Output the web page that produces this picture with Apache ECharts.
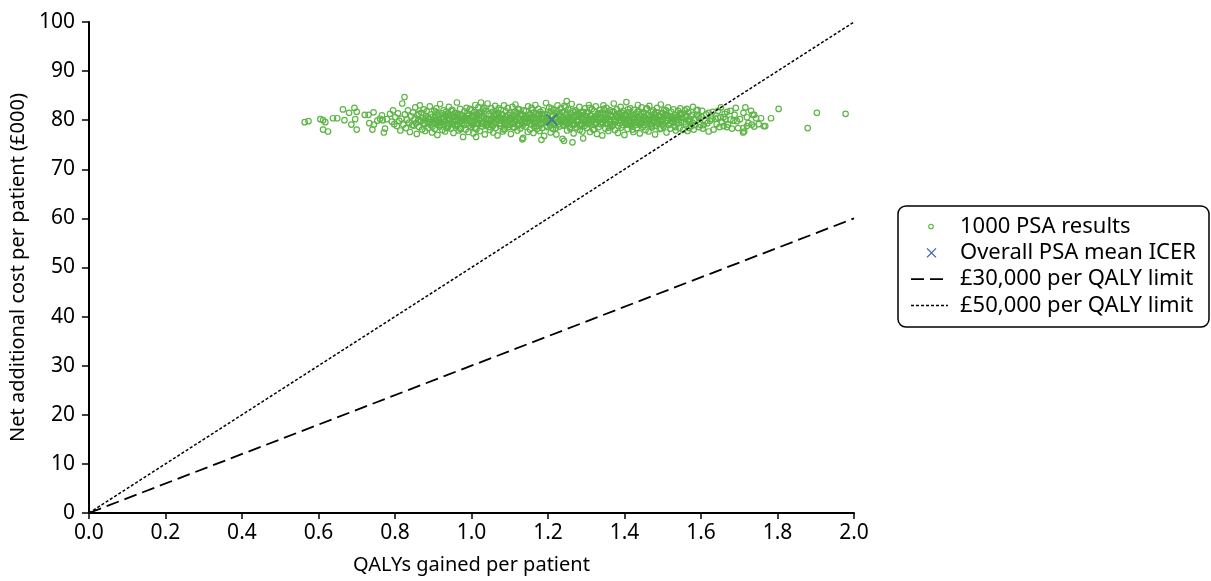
<!DOCTYPE html>
<html>
<head>
<meta charset="utf-8">
<script src="https://cdn.jsdelivr.net/npm/echarts@6/dist/echarts.min.js"></script>
<style>
html,body{margin:0;padding:0;background:#fff;}
#chart{width:1211px;height:581px;}
</style>
</head>
<body>
<div id="chart"></div>
<script>
// ---- Data ----
var xTickLabels = ['0.0','0.2','0.4','0.6','0.8','1.0','1.2','1.4','1.6','1.8','2.0'];
var yTickLabels = ['0','10','20','30','40','50','60','70','80','90','100'];

var seriesNames = ['1000 PSA results','Overall PSA mean ICER','£30,000 per QALY limit','£50,000 per QALY limit'];

// threshold lines: QALYs gained vs cost (£000)
var thresholdQalys = [0, 2.0];
var limit30k = [0, 60];
var limit50k = [0, 100];

// overall mean ICER point
var meanIcer = [1.21, 80.1];

// PSA results [QALYs gained, net additional cost (£000)]
var psaResults = [
[0.564,79.6],[0.574,79.8],[0.605,80.2],[0.612,80.0],[0.618,79.6],[0.612,78.1],[0.625,77.7],[0.638,80.4],[0.649,80.4],[0.664,82.2],
[0.668,80.0],[0.680,81.5],[0.686,79.1],[0.694,82.5],[0.700,81.7],[0.696,80.2],[0.700,78.1],[0.721,81.1],[0.731,81.1],[0.744,81.6],
[0.733,79.4],[0.745,79.1],[0.741,78.1],[0.754,79.9],[0.761,80.3],[0.766,81.0],[0.768,80.0],[0.779,80.2],[0.774,78.3],[0.771,77.5],
[0.787,81.3],[0.792,79.7],[0.795,82.0],
[0.798,79.2],[0.801,80.6],[0.805,78.8],[0.808,81.4],[0.811,79.9],[0.814,77.9],[0.817,80.3],[0.819,83.4],[0.822,79.1],[0.825,84.7],
[0.826,81.2],[0.829,78.4],[0.832,80.1],[0.834,82.0],[0.837,79.5],[0.839,77.6],[0.842,80.8],[0.845,79.0],[0.847,81.6],[0.849,78.9],
[0.851,80.2],[0.853,82.6],[0.855,79.4],[0.857,77.2],[0.859,81.0],[0.861,80.0],[0.863,78.6],[0.865,83.0],[0.867,79.7],[0.869,81.5],
[0.871,78.1],[0.873,80.5],[0.875,82.2],[0.877,79.2],[0.879,77.8],[0.881,80.9],[0.883,81.8],[0.885,79.6],[0.887,78.4],[0.889,80.3],
[0.891,82.8],[0.893,79.0],[0.895,81.2],[0.897,77.5],[0.899,80.7],
[0.901,79.3],[0.903,81.9],[0.904,78.2],[0.906,80.4],[0.908,82.4],[0.910,79.8],[0.911,77.0],[0.913,81.1],[0.915,80.1],[0.917,78.7],
[0.918,83.3],[0.920,79.5],[0.922,81.4],[0.924,78.0],[0.925,80.6],[0.927,82.0],[0.929,79.1],[0.931,77.7],[0.932,80.9],[0.934,81.7],
[0.936,79.4],[0.938,78.5],[0.939,80.2],[0.941,82.7],[0.943,79.9],[0.945,81.0],[0.946,78.3],[0.948,80.5],
[0.950,82.1],[0.952,79.6],[0.953,77.4],[0.955,80.8],[0.957,81.5],[0.958,78.8],[0.960,80.0],[0.962,83.6],[0.963,79.2],[0.965,81.3],
[0.967,77.9],[0.968,80.4],[0.970,82.3],[0.972,79.7],[0.973,78.4],[0.975,81.0],[0.977,80.2],[0.978,76.6],[0.980,79.0],[0.982,81.8],
[0.983,80.6],[0.985,78.1],[0.987,82.5],[0.988,79.4],[0.990,80.9],[0.992,77.6],[0.993,81.2],[0.995,79.9],[0.997,80.4],[0.998,78.6],
[1.000,82.0],[1.002,79.1],[1.003,80.7],[1.005,77.3],[1.007,81.6],[1.008,79.8],[1.010,83.1],[1.012,80.3],[1.013,78.2],[1.015,81.1],
[1.017,79.5],[1.018,82.6],[1.020,80.0],[1.022,77.8],[1.023,81.4],[1.025,79.3],[1.027,80.8],[1.028,78.7],[1.030,82.2],[1.032,79.7],
[1.033,80.5],[1.035,77.1],[1.037,81.9],[1.038,80.1],[1.040,78.9],[1.042,83.4],[1.043,79.4],[1.045,81.3],[1.047,80.2],[1.048,78.0],
[1.050,80.9],[1.052,82.4],[1.053,79.0],[1.055,81.7],[1.057,77.5],[1.058,80.4],[1.060,79.6],[1.062,82.9],[1.063,78.4],[1.065,81.0],
[1.067,80.0],[1.068,76.9],[1.070,81.5],[1.072,79.2],[1.073,80.7],[1.075,78.8],[1.077,82.1],[1.078,79.9],[1.080,81.2],[1.082,77.7],
[1.083,80.3],[1.085,83.0],[1.087,79.5],[1.088,78.2],[1.090,81.8],[1.092,80.6],[1.093,79.1],[1.095,82.5],[1.097,78.6],[1.098,80.1],
[1.100,81.4],[1.102,79.7],[1.103,77.2],[1.105,80.8],[1.107,82.7],[1.108,79.3],[1.110,81.1],[1.112,78.5],[1.113,80.2],[1.115,83.2],
[1.117,79.8],[1.118,81.6],[1.120,77.9],[1.122,80.5],[1.123,79.0],[1.125,82.2],[1.127,80.0],[1.128,78.3],[1.130,81.3],[1.132,79.6],
[1.133,80.9],[1.135,76.4],[1.137,82.0],[1.138,79.4],[1.140,80.6],[1.142,78.7],[1.143,81.9],[1.145,80.3],[1.147,77.6],[1.148,82.8],
[1.150,79.9],[1.152,81.2],[1.153,78.1],[1.155,80.7],[1.157,82.5],[1.158,79.2],[1.160,80.1],[1.162,77.4],[1.163,81.5],[1.165,79.7],
[1.167,83.1],[1.168,80.4],[1.170,78.8],[1.172,81.0],[1.173,79.5],[1.175,82.3],[1.177,80.0],[1.178,77.8],[1.180,81.7],[1.182,79.1],
[1.183,80.6],[1.185,78.4],[1.187,82.0],[1.188,80.2],[1.190,76.8],[1.192,81.3],[1.193,79.8],[1.195,83.5],[1.197,80.5],[1.198,78.6],
[1.200,81.1],[1.202,79.4],[1.203,82.6],[1.205,80.0],[1.207,77.5],[1.208,81.8],[1.210,79.6],[1.212,80.8],[1.213,78.2],[1.215,82.1],
[1.217,80.3],[1.218,79.0],[1.220,81.4],[1.222,77.1],[1.223,80.6],[1.225,83.0],[1.227,79.2],[1.228,81.0],[1.230,78.7],[1.232,80.1],
[1.233,82.4],[1.235,79.7],[1.237,81.6],[1.238,76.2],[1.240,80.4],[1.242,78.9],[1.243,82.9],[1.245,80.0],[1.247,79.3],[1.248,81.2],
[1.250,77.9],[1.252,80.7],[1.253,82.2],[1.255,79.5],[1.257,81.5],[1.258,78.3],[1.260,80.2],[1.262,83.3],[1.263,79.9],[1.265,81.9],
[1.267,77.3],[1.268,80.5],[1.270,79.1],[1.272,82.0],[1.273,80.9],[1.275,78.5],[1.277,81.3],[1.278,79.6],[1.280,80.0],[1.282,82.7],
[1.283,78.0],[1.285,81.1],[1.287,79.3],[1.288,80.6],[1.290,77.7],[1.292,81.7],[1.293,80.3],[1.295,78.8],[1.297,82.4],[1.298,79.8],
[1.300,80.8],[1.302,78.4],[1.303,81.4],[1.305,79.4],[1.307,83.1],[1.308,80.1],[1.310,77.6],[1.312,81.0],[1.313,79.7],[1.315,82.3],
[1.317,80.4],[1.318,78.1],[1.320,81.8],[1.322,79.0],[1.323,80.7],[1.325,82.8],[1.327,79.5],[1.328,77.2],[1.330,81.2],[1.332,80.0],
[1.333,78.6],[1.335,82.1],[1.337,80.5],[1.338,79.2],[1.340,81.5],[1.342,76.9],[1.343,80.2],[1.345,83.0],[1.347,79.9],[1.348,81.1],
[1.350,78.3],[1.352,80.6],[1.353,82.5],[1.355,79.3],[1.357,81.3],[1.358,77.8],[1.360,80.0],[1.362,82.0],[1.363,79.6],[1.365,80.9],
[1.367,78.7],[1.368,81.7],[1.370,79.1],[1.372,83.4],[1.373,80.3],[1.375,78.0],[1.377,81.0],[1.378,79.8],[1.380,82.2],[1.382,80.5],
[1.383,77.4],[1.385,81.4],[1.387,79.4],[1.388,80.1],[1.390,82.7],[1.392,78.5],[1.393,80.8],[1.395,79.0],[1.397,81.9],[1.398,80.2],
[1.400,77.0],[1.402,81.2],[1.403,79.5],[1.405,83.7],[1.407,80.4],[1.408,78.2],[1.410,81.6],[1.412,79.7],[1.413,80.0],[1.415,82.4],
[1.417,78.8],[1.418,81.0],[1.420,79.2],[1.422,80.7],[1.423,77.6],[1.425,82.1],[1.427,80.2],[1.428,79.0],[1.430,81.4],[1.432,78.4],
[1.433,80.5],[1.435,83.1],[1.437,79.6],[1.438,81.8],[1.440,77.3],[1.442,80.9],[1.443,79.3],[1.445,82.6],[1.447,80.1],[1.448,78.6],
[1.450,81.5],[1.452,79.9],[1.453,80.6],[1.455,78.0],[1.457,82.3],[1.458,79.4],[1.460,81.1],[1.462,80.3],[1.463,77.7],[1.465,82.9],
[1.467,79.1],[1.468,80.8],[1.470,81.7],[1.472,78.5],[1.473,80.0],[1.475,82.0],[1.477,79.6],[1.478,81.3],[1.480,77.1],[1.482,80.4],
[1.483,78.9],[1.485,82.5],[1.487,80.2],[1.488,79.3],[1.490,81.0],[1.492,78.2],[1.493,80.7],[1.495,83.2],[1.497,79.7],[1.498,81.5],
[1.500,80.1],[1.502,78.7],[1.504,82.1],[1.506,79.5],[1.508,81.2],[1.510,77.5],[1.512,80.5],[1.514,82.6],[1.516,79.0],[1.518,80.8],
[1.520,78.3],[1.522,81.7],[1.524,79.8],[1.526,80.3],[1.528,82.2],[1.530,78.9],[1.532,81.0],[1.534,77.9],[1.536,80.6],[1.538,79.3],
[1.540,81.9],[1.542,80.0],[1.544,78.4],[1.546,82.4],[1.548,79.6],
[1.551,81.3],[1.553,78.0],[1.555,80.4],[1.558,82.0],[1.560,79.2],[1.562,80.9],[1.565,77.8],[1.567,81.6],[1.570,79.7],[1.572,80.2],
[1.579,82.7],[1.591,82.1],[1.603,81.9],[1.577,81.1],[1.590,81.1],[1.620,81.5],[1.631,81.7],[1.652,82.6],[1.668,81.7],[1.677,81.9],
[1.691,82.5],[1.716,82.6],[1.711,81.5],[1.731,81.9],[1.735,81.1],[1.803,82.3],[1.783,80.4],[1.757,80.4],[1.744,80.4],[1.720,80.6],
[1.685,79.9],[1.694,79.8],[1.677,80.1],[1.659,80.6],[1.651,80.6],[1.638,80.3],[1.624,79.9],[1.611,79.8],[1.598,79.1],[1.585,79.0],
[1.575,78.8],[1.607,79.0],[1.659,78.8],[1.668,78.6],[1.681,78.3],[1.697,78.4],[1.720,78.8],[1.724,79.4],[1.711,78.4],[1.713,77.7],
[1.733,79.1],[1.764,78.8],[1.768,78.8],[1.620,77.7],[1.633,78.1],[1.581,78.1],[1.595,78.6],[1.739,81.1],[1.739,78.7],[1.710,77.5],
[1.903,81.5],[1.978,81.3],[1.879,78.4],
[1.012,76.6],[1.133,76.1],[1.183,76.0],[1.242,75.8],[1.264,75.5],[1.292,76.3],[1.025,83.6],[1.249,83.9],
[0.907,80.0],[0.919,79.1],[0.933,81.2],[0.944,80.3],[0.956,79.0],[0.969,81.1],[0.981,80.2],[0.994,78.9],[1.006,80.6],[1.019,81.5],
[1.031,79.2],[1.044,80.1],[1.056,78.8],[1.069,80.3],[1.081,81.0],[1.094,79.7],[1.106,80.2],[1.119,79.0],[1.131,80.9],[1.144,79.5],
[1.156,80.3],[1.169,81.4],[1.181,79.3],[1.194,80.1],[1.206,78.9],[1.219,80.4],[1.231,81.3],[1.244,79.6],[1.256,80.6],[1.269,79.3],
[1.281,81.2],[1.294,80.0],[1.306,79.2],[1.319,80.3],[1.331,81.4],[1.344,79.4],[1.356,80.5],[1.369,79.0],[1.381,80.9],[1.394,81.5],
[1.406,79.1],[1.419,80.3],[1.431,79.7],[1.444,81.3],[1.456,80.1],[1.469,79.2],[1.481,81.0],[1.494,80.0],[1.506,80.9],[1.519,79.4],
[1.531,80.4],[1.544,81.1],
[0.913,79.6],[0.926,80.7],[0.938,78.9],[0.950,80.9],[0.963,81.0],[0.975,79.3],[0.988,80.1],[1.000,79.5],[1.013,81.2],[1.025,80.4],
[1.038,78.9],[1.050,79.8],[1.063,81.3],[1.075,80.5],[1.088,79.0],[1.100,80.4],[1.113,81.7],[1.125,79.3],[1.138,80.2],[1.150,81.0],
[1.163,79.4],[1.175,80.9],[1.188,79.6],[1.200,80.5],[1.213,81.0],[1.225,79.7],[1.238,80.3],[1.250,81.1],[1.263,79.0],[1.275,80.1],
[1.288,81.5],[1.300,79.6],[1.313,80.8],[1.325,79.3],[1.338,80.4],[1.350,81.2],[1.363,79.2],[1.375,80.0],[1.388,81.3],[1.400,79.7],
[1.413,80.8],[1.425,79.5],[1.438,80.4],[1.450,79.0],[1.463,81.0],[1.475,80.6],[1.488,79.5],[1.500,81.4],[1.513,79.9],[1.525,80.7],
[0.862,81.3],[0.874,79.4],[0.886,80.6],[0.898,78.7],[0.909,81.6],[0.921,80.3],[0.935,78.4],[0.947,81.9],[0.959,79.8],[0.971,78.2],
[0.984,80.5],[0.996,82.3],[1.009,78.5],[1.021,80.9],[1.034,82.5],[1.046,78.6],[1.059,81.0],[1.071,82.4],[1.084,78.1],[1.096,81.1],
[1.109,78.6],[1.121,82.3],[1.134,78.9],[1.146,80.7],[1.159,82.1],[1.171,78.2],[1.184,81.2],[1.196,78.9],[1.209,82.4],[1.221,78.4],
[1.234,80.9],[1.246,82.6],[1.259,78.6],[1.271,81.6],[1.284,78.9],[1.296,81.0],[1.309,82.5],[1.321,78.2],[1.334,80.6],[1.346,82.3],
[1.359,78.5],[1.371,81.8],[1.384,78.8],[1.396,80.4],[1.409,82.2],[1.421,78.1],[1.434,81.7],[1.446,79.4],[1.459,82.4],[1.471,78.8],
[1.484,81.6],[1.496,78.3],[1.509,82.0],[1.521,80.2],[1.533,78.6],[1.545,81.4],[1.556,79.6],[1.563,82.3],[1.569,78.4],[1.574,80.8],
[1.583,80.1],[1.588,82.0],[1.596,80.4],[1.605,78.3],[1.614,81.2],[1.626,80.8],[1.641,79.2],[1.645,81.9],[1.655,79.6],[1.664,80.2],
[0.868,79.9],[0.880,80.4],[0.892,79.6],[0.905,80.9],[0.916,79.0],[0.928,80.2],[0.940,81.4],[0.951,79.2],[0.964,80.6],[0.976,79.9],
[0.989,81.4],[1.001,80.8],[1.014,79.3],[1.026,81.7],[1.039,80.2],[1.051,79.2],[1.064,80.2],[1.076,79.4],[1.089,80.7],[1.101,79.0],
[1.114,80.6],[1.126,81.1],[1.139,79.7],[1.151,80.4],[1.164,78.7],[1.176,81.2],[1.189,80.4],[1.201,79.9],[1.214,79.3],[1.226,81.8],
[1.239,79.0],[1.251,80.3],[1.264,80.7],[1.276,79.9],[1.289,79.1],[1.301,81.6],[1.314,80.2],[1.326,80.9],[1.339,79.6],[1.351,80.2],
[1.364,81.1],[1.376,79.6],[1.389,80.5],[1.401,81.0],[1.414,79.4],[1.426,80.6],[1.439,79.1],[1.451,80.7],[1.464,79.8],[1.476,80.4],
[1.489,79.8],[1.501,79.1],[1.514,81.0],[1.527,79.6],[1.539,80.7],[1.549,80.5],[1.559,80.7],[1.566,79.9],[1.578,79.5],[1.593,80.7],
[1.601,80.6],[1.617,79.4],[1.628,80.3],[1.644,80.5],[1.648,78.6],[1.662,81.3],[1.671,79.1],[1.688,81.1],[1.702,80.2],[1.751,79.2]
];

// ---- Chart ----
var FONT = '"Noto Sans", "DejaVu Sans", sans-serif';
var GREEN = '#5db546';
var BLUE = '#3b5fae';

function pairs(xs, ys) { return xs.map(function (x, i) { return [x, ys[i]]; }); }

var chart = echarts.init(document.getElementById('chart'), null, {renderer: 'canvas'});

var legendX = 898, legendY = 206, rowH = 26.3, rowY0 = 226.5;
var legendGraphics = [
  {type: 'rect', shape: {x: legendX, y: legendY, width: 311, height: 121, r: 8},
   style: {fill: '#fff', stroke: '#000', lineWidth: 1.5}},
  {type: 'circle', shape: {cx: 931, cy: rowY0, r: 2.3}, style: {fill: 'none', stroke: GREEN, lineWidth: 1.1}},
  {type: 'polyline', shape: {points: [[927, rowY0 + rowH - 4.5], [936, rowY0 + rowH + 4.5]]}, style: {stroke: BLUE, lineWidth: 1.2}},
  {type: 'polyline', shape: {points: [[936, rowY0 + rowH - 4.5], [927, rowY0 + rowH + 4.5]]}, style: {stroke: BLUE, lineWidth: 1.2}},
  {type: 'line', shape: {x1: 911, y1: rowY0 + 2 * rowH, x2: 948, y2: rowY0 + 2 * rowH}, style: {stroke: '#000', lineWidth: 1.8, lineDash: [13, 6]}},
  {type: 'line', shape: {x1: 911, y1: rowY0 + 3 * rowH, x2: 948, y2: rowY0 + 3 * rowH}, style: {stroke: '#000', lineWidth: 1.5, lineDash: [3, 2]}}
];
seriesNames.forEach(function (n, i) {
  legendGraphics.push({type: 'text', x: 960, y: rowY0 + i * rowH,
    style: {text: n, fill: '#000', font: '22px ' + FONT, textVerticalAlign: 'middle', verticalAlign: 'middle'}});
});

var option = {
  animation: false,
  backgroundColor: '#fff',
  textStyle: {fontFamily: FONT},
  grid: {left: 87, right: 357, top: 22, bottom: 68, containLabel: false},
  xAxis: {
    type: 'value', min: 0, max: 2.0, interval: 0.2,
    name: 'QALYs gained per patient', nameLocation: 'middle', nameGap: 42,
    nameTextStyle: {fontSize: 20, color: '#000', fontFamily: FONT},
    axisLine: {show: true, onZero: false, lineStyle: {color: '#000', width: 2}},
    axisTick: {show: true, inside: false, length: 6, lineStyle: {color: '#000', width: 1.5}},
    axisLabel: {fontSize: 21, color: '#000', margin: 10, fontFamily: FONT,
      formatter: function (v) { return xTickLabels[Math.round(v / 0.2)]; }},
    splitLine: {show: false}
  },
  yAxis: {
    type: 'value', min: 0, max: 100, interval: 10,
    name: 'Net additional cost per patient (£000)', nameLocation: 'middle', nameGap: 58, nameRotate: 90,
    nameTextStyle: {fontSize: 20, color: '#000', fontFamily: FONT},
    axisLine: {show: true, onZero: false, lineStyle: {color: '#000', width: 2}},
    axisTick: {show: true, inside: false, length: 7, lineStyle: {color: '#000', width: 1.5}},
    axisLabel: {fontSize: 21, color: '#000', margin: 14, fontFamily: FONT,
      formatter: function (v) { return yTickLabels[Math.round(v / 10)]; }},
    splitLine: {show: false}
  },
  series: [
    {
      name: seriesNames[0], type: 'scatter', data: psaResults,
      symbol: 'circle', symbolSize: 5.5, z: 2,
      itemStyle: {color: 'rgba(0,0,0,0)', borderColor: GREEN, borderWidth: 1.2, opacity: 1},
      emphasis: {disabled: true}
    },
    {
      name: seriesNames[1], type: 'scatter', data: [meanIcer],
      symbol: 'path://M0,0L10,10M10,0L0,10', symbolSize: 11, z: 4,
      itemStyle: {color: 'rgba(0,0,0,0)', borderColor: BLUE, borderWidth: 1.6},
      emphasis: {disabled: true}
    },
    {
      name: seriesNames[2], type: 'line', data: pairs(thresholdQalys, limit30k),
      symbol: 'none', z: 3,
      lineStyle: {color: '#000', width: 1.8, type: [13, 6]}
    },
    {
      name: seriesNames[3], type: 'line', data: pairs(thresholdQalys, limit50k),
      symbol: 'none', z: 3,
      lineStyle: {color: '#000', width: 1.5, type: [3, 2]}
    }
  ],
  graphic: legendGraphics
};
chart.setOption(option);
</script>
</body>
</html>
